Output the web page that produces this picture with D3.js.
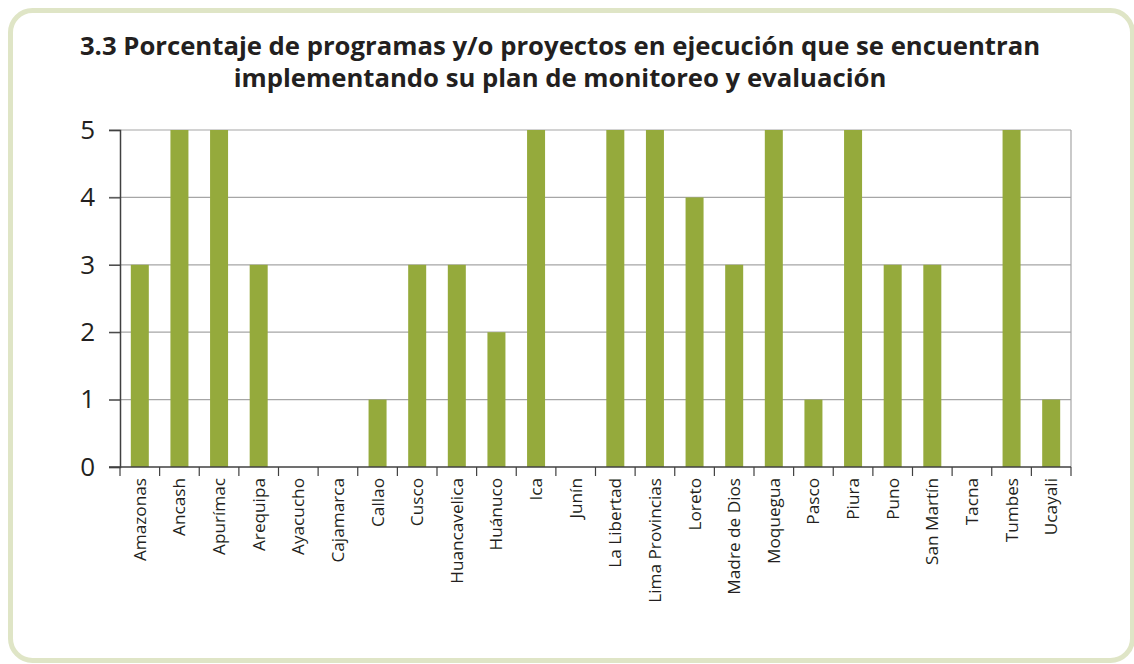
<!DOCTYPE html>
<html>
<head>
<meta charset="utf-8">
<script src="https://cdn.jsdelivr.net/npm/d3@7"></script>
<style>
  body { margin: 0; background: #fff; }
  svg { display: block; font-family: "Open Sans", "DejaVu Sans", sans-serif; }
</style>
</head>
<body>
<div id="chart"></div>
<script>
// datos
var regiones = ["Amazonas", "Ancash", "Apurímac", "Arequipa", "Ayacucho", "Cajamarca",
  "Callao", "Cusco", "Huancavelica", "Huánuco", "Ica", "Junín", "La Libertad",
  "Lima Provincias", "Loreto", "Madre de Dios", "Moquegua", "Pasco", "Piura",
  "Puno", "San Martín", "Tacna", "Tumbes", "Ucayali"];
var valores = [3, 5, 5, 3, 0, 0, 1, 3, 3, 2, 5, 0, 5, 5, 4, 3, 5, 1, 5, 3, 3, 0, 5, 1];
var yTicks = [0, 1, 2, 3, 4, 5];
var titulo = ["3.3 Porcentaje de programas y/o proyectos en ejecución que se encuentran",
  "implementando su plan de monitoreo y evaluación"];

var W = 1134, H = 664;
var margin = { top: 130, right: 63, bottom: 197, left: 120 };
var width = W - margin.left - margin.right,
    height = H - margin.top - margin.bottom;

var svg = d3.select("#chart").append("svg")
  .attr("width", W).attr("height", H);

// marco redondeado
svg.append("rect")
  .attr("x", 10.5).attr("y", 10.5)
  .attr("width", 1122).attr("height", 650)
  .attr("rx", 22).attr("ry", 22)
  .attr("fill", "#fff")
  .attr("stroke", "#dfe5c6")
  .attr("stroke-width", 5);

svg.selectAll(".titulo").data(titulo).enter()
  .append("text")
  .attr("class", "titulo")
  .attr("x", 560)
  .attr("y", function(d, i) { return 55 + i * 32; })
  .attr("text-anchor", "middle")
  .style("font-size", "25.7px")
  .style("font-weight", "bold")
  .style("fill", "#231f20")
  .text(function(d) { return d; });

var g = svg.append("g")
  .attr("transform", "translate(" + margin.left + "," + margin.top + ")");

var x = d3.scaleBand().domain(regiones).range([0, width]).padding(0);
var y = d3.scaleLinear().domain([0, 5]).range([height, 0]);

// lineas de cuadricula
g.selectAll(".grid").data(yTicks.filter(function(d) { return d > 0; })).enter()
  .append("line")
  .attr("x1", -11).attr("x2", width)
  .attr("y1", function(d) { return y(d); })
  .attr("y2", function(d) { return y(d); })
  .attr("stroke", "#a6a6a6")
  .attr("stroke-width", 1.2);

// borde derecho
g.append("line")
  .attr("x1", width).attr("x2", width)
  .attr("y1", 0).attr("y2", height)
  .attr("stroke", "#a6a6a6").attr("stroke-width", 1.2);

var barW = 18;
g.selectAll(".bar").data(valores).enter()
  .append("rect")
  .attr("class", "bar")
  .attr("x", function(d, i) { return x(regiones[i]) + x.bandwidth() / 2 - barW / 2; })
  .attr("y", function(d) { return y(d); })
  .attr("width", barW)
  .attr("height", function(d) { return height - y(d); })
  .attr("fill", "#95aa3c");

// eje Y
var yAxis = g.append("g")
  .call(d3.axisLeft(y).tickValues(yTicks).tickSize(11).tickPadding(14).tickFormat(d3.format("d")))
  .attr("font-family", null);
yAxis.select(".domain").attr("stroke", "#404040").attr("stroke-width", 1.5);
yAxis.selectAll(".tick line").attr("stroke", "#404040").attr("stroke-width", 1.2);
yAxis.selectAll(".tick text")
  .style("font-family", "'Open Sans', sans-serif")
  .style("font-size", "26px").style("fill", "#231f20");

// eje X
var xAxis = g.append("g")
  .attr("transform", "translate(0," + height + ")");
xAxis.append("line")
  .attr("x1", -11).attr("x2", width)
  .attr("stroke", "#404040").attr("stroke-width", 1.5);
var bordes = d3.range(regiones.length + 1).map(function(i) { return i * x.step(); });
xAxis.selectAll(".tk").data(bordes).enter()
  .append("line")
  .attr("x1", function(d) { return d; }).attr("x2", function(d) { return d; })
  .attr("y1", 0).attr("y2", 9)
  .attr("stroke", "#404040").attr("stroke-width", 1.2);
xAxis.selectAll(".lbl").data(regiones).enter()
  .append("text")
  .attr("transform", function(d) {
    return "translate(" + (x(d) + x.bandwidth() / 2 + 6) + ",11) rotate(-90)";
  })
  .attr("text-anchor", "end")
  .style("font-size", "17.2px")
  .style("fill", "#231f20")
  .text(function(d) { return d; });
</script>
</body>
</html>
